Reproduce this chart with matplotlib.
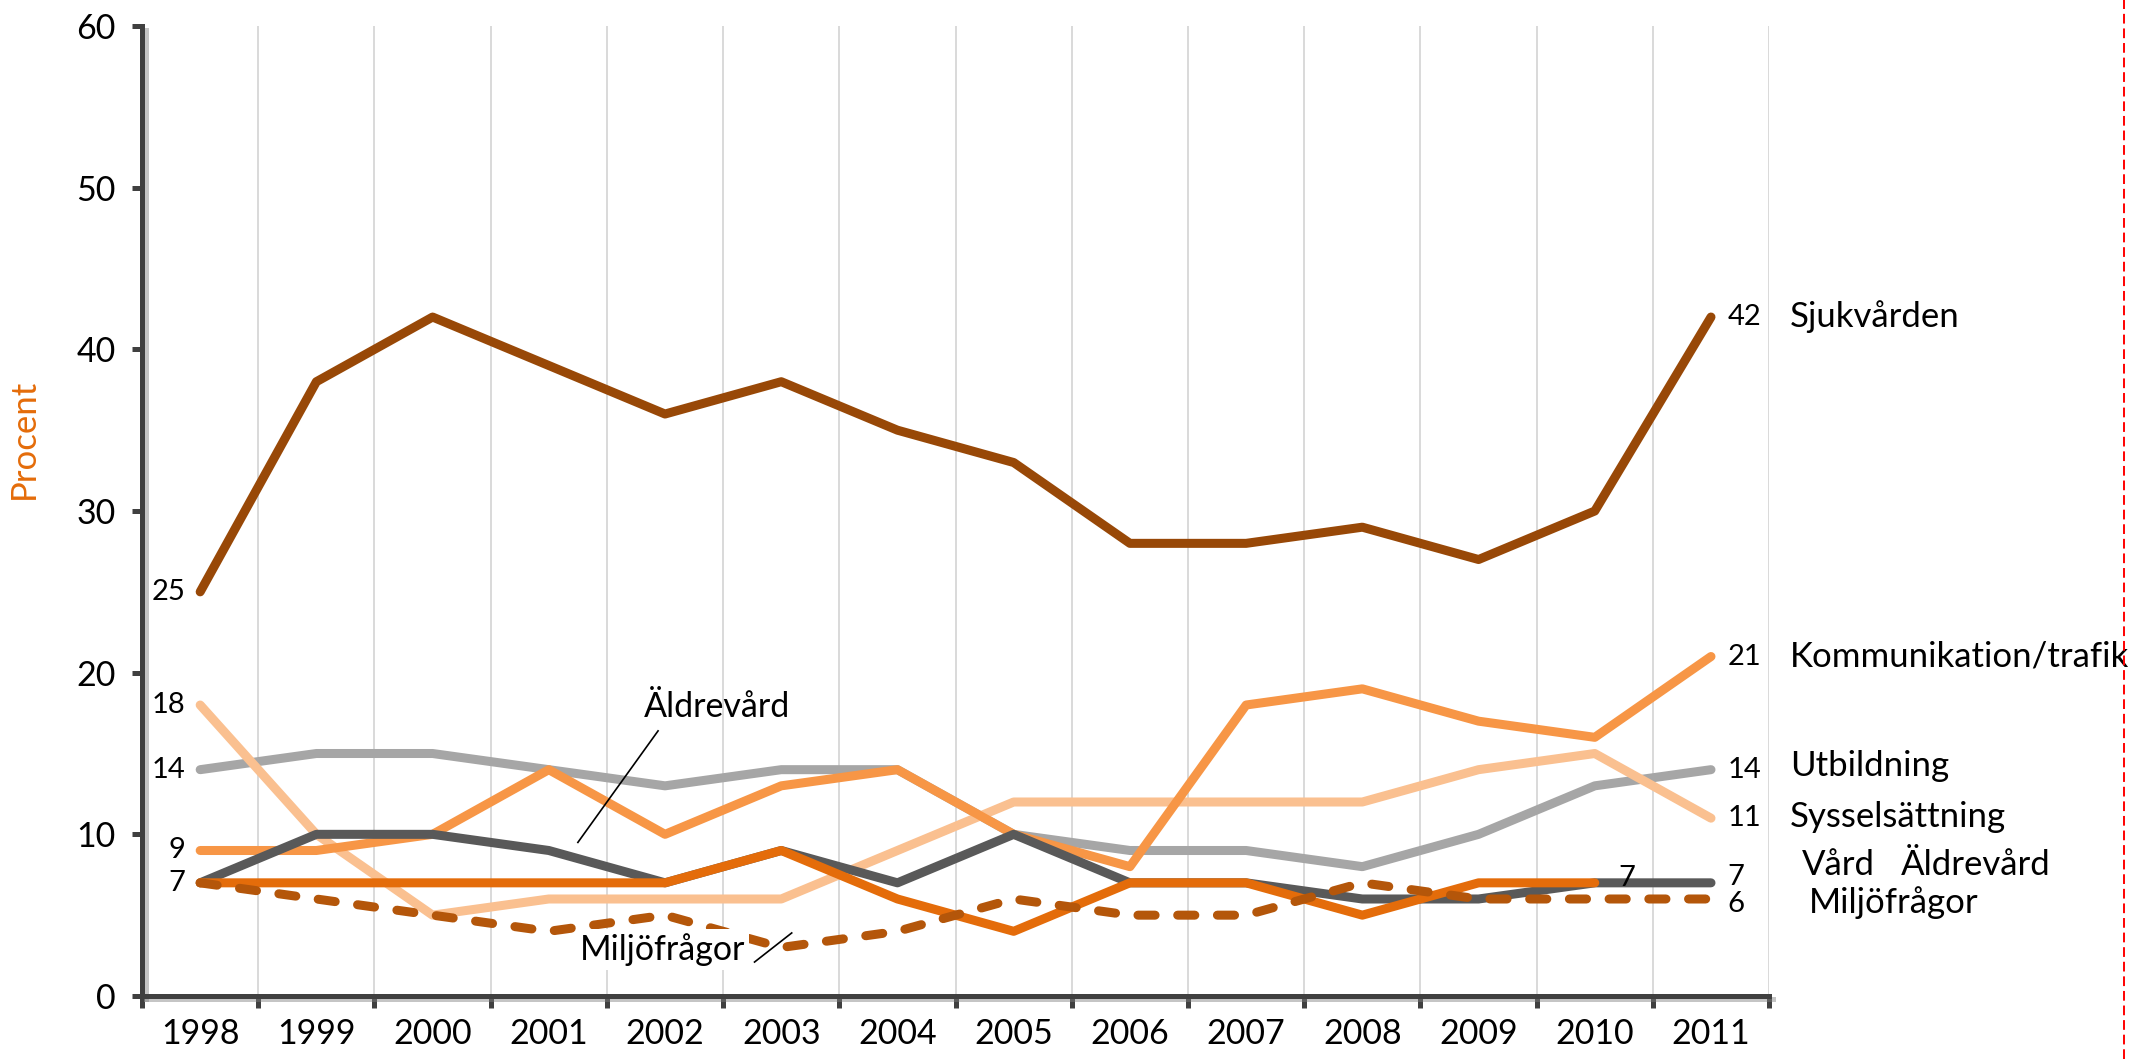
"""
Viktigaste frågorna 1998-2011 -- andel (procent) per sakfråga
Linjediagram med etiketter vid första och sista året.
"""

import matplotlib
matplotlib.use("Agg")
import matplotlib.pyplot as plt
import matplotlib.patheffects as pe
from matplotlib.lines import Line2D

YEARS = [1998, 1999, 2000, 2001, 2002, 2003, 2004,
         2005, 2006, 2007, 2008, 2009, 2010, 2011]

SJUKVARDEN     = [25, 38, 42, 39, 36, 38, 35, 33, 28, 28, 29, 27, 30, 42]
KOMMUNIKATION  = [9, 9, 10, 14, 10, 13, 14, 10, 8, 18, 19, 17, 16, 21]
UTBILDNING     = [14, 15, 15, 14, 13, 14, 14, 10, 9, 9, 8, 10, 13, 14]
SYSSELSATTNING = [18, 10, 5, 6, 6, 6, 9, 12, 12, 12, 12, 14, 15, 11]
ALDREVARD      = [7, 10, 10, 9, 7, 9, 7, 10, 7, 7, 6, 6, 7, 7]
VARD           = [7, 7, 7, 7, 7, 9, 6, 4, 7, 7, 5, 7, 7]          # slutar 2010
MILJOFRAGOR    = [7, 6, 5, 4, 5, 3, 4, 6, 5, 5, 7, 6, 6, 6]

# (värden, färg, streckad, zorder) -- ritordning nedifrån och upp
SERIES = [
    (UTBILDNING,     "#A6A6A6", False, 3),
    (SYSSELSATTNING, "#FAC090", False, 4),
    (KOMMUNIKATION,  "#F79646", False, 5),
    (ALDREVARD,      "#595959", False, 6),
    (VARD,           "#E46C0A", False, 7),
    (MILJOFRAGOR,    "#B4560A", True,  8),
    (SJUKVARDEN,     "#984807", False, 9),
]

# etiketter till höger: (text, y)
RIGHT_NAMES = [
    ("Sjukvården", 42),
    ("Kommunikation/trafik", 21),
    ("Utbildning", 14.2),
    ("Sysselsättning", 11.1),
]

AXIS_COL = "#404040"
FONT = ["Lato", "DejaVu Sans"]
NUM_FS = 21
NAME_FS = 25


def chart() -> None:
    plt.rcParams.update({
        "font.family": FONT,
        "font.size": 22,
    })

    fig = plt.figure(figsize=(21.33, 10.59), dpi=100)
    ax = fig.add_axes([0.0666, 0.0595, 0.7628, 0.9159])

    x = list(range(len(YEARS)))
    lw = 6.5
    for vals, col, dashed, z in SERIES:
        xs = x[:len(vals)]
        if dashed:
            ax.plot(xs, vals, color=col, lw=lw, zorder=z,
                    dashes=(1.9, 2.5), dash_capstyle="round",
                    dash_joinstyle="round")
        else:
            ax.plot(xs, vals, color=col, lw=lw, zorder=z,
                    solid_capstyle="round", solid_joinstyle="round")

    ax.set_xlim(-0.5, len(YEARS) - 0.5)
    ax.set_ylim(0, 60)

    # axlar
    for side in ("top", "right"):
        ax.spines[side].set_visible(False)
    shadow = [pe.SimpleLineShadow(offset=(2.5, -2.5), shadow_color="#808080",
                                  alpha=0.45), pe.Normal()]
    for side in ("left", "bottom"):
        ax.spines[side].set_color(AXIS_COL)
        ax.spines[side].set_linewidth(3.6)
        ax.spines[side].set_path_effects(shadow)
        ax.spines[side].set_zorder(10)

    ax.set_yticks(range(0, 61, 10))
    ax.tick_params(axis="y", direction="out", length=7, width=3.6,
                   color=AXIS_COL, pad=12, labelsize=24.5)
    ax.set_xticks(x)
    ax.set_xticklabels(YEARS)
    ax.set_xticks([i - 0.5 for i in range(len(YEARS) + 1)], minor=True)
    ax.tick_params(axis="x", which="major", length=0, pad=16, labelsize=24.5)
    ax.tick_params(axis="x", which="minor", direction="out", length=8.5,
                   width=3.6, color=AXIS_COL)
    ax.grid(axis="x", which="minor", color="#D9D9D9", lw=1.4, zorder=0)
    ax.set_axisbelow(True)

    # etiketter, vänster
    for vals in (SJUKVARDEN, SYSSELSATTNING, UTBILDNING, KOMMUNIKATION, ALDREVARD):
        ax.text(-0.13, vals[0], f"{vals[0]}", ha="right", va="center",
                fontsize=NUM_FS)

    # etiketter, höger
    last = len(YEARS) - 1
    for vals in (SJUKVARDEN, KOMMUNIKATION, UTBILDNING, SYSSELSATTNING):
        ax.text(last + 0.14, vals[-1], f"{vals[-1]}", ha="left", va="center",
                fontsize=NUM_FS)
    for name, yy in RIGHT_NAMES:
        ax.text(last + 0.68, yy, name, ha="left", va="center", fontsize=NAME_FS)

    ax.text(last + 0.14, ALDREVARD[-1] + 0.35, f"{ALDREVARD[-1]}", ha="left",
            va="center", fontsize=NUM_FS)
    ax.text(last + 0.14, MILJOFRAGOR[-1] - 0.3, f"{MILJOFRAGOR[-1]}", ha="left",
            va="center", fontsize=NUM_FS)
    ax.text(len(VARD) - 1 + 0.2, VARD[-1] + 0.3, f"{VARD[-1]}", ha="left",
            va="center", fontsize=NUM_FS, zorder=12)
    ax.text(last + 0.78, 8.1, "Vård", ha="left", va="center", fontsize=NAME_FS)
    ax.text(last + 1.63, 8.1, "Äldrevård", ha="left", va="center",
            fontsize=NAME_FS)
    ax.text(last + 0.84, 5.8, "Miljöfrågor", ha="left", va="center",
            fontsize=NAME_FS)

    # etiketter med hänvisningslinje i diagrammet
    ax.text(4.45, 17.9, "Äldrevård", ha="center", va="center", fontsize=24.5,
            zorder=12)
    ax.plot([3.94, 3.25], [16.4, 9.5], color="black", lw=1.2, zorder=12)
    ax.text(3.98, 2.85, "Miljöfrågor", ha="center", va="center", fontsize=24.5,
            zorder=12, bbox=dict(boxstyle="square,pad=0.12", fc="white",
                                 ec="none"))
    ax.plot([4.77, 5.09], [2.1, 3.9], color="black", lw=1.2, zorder=12)

    fig.text(0.0113, 0.586, "Procent", rotation=90, ha="center", va="center",
             fontsize=25, color="#E46C0A")

    # röd streckad kantlinje till höger
    fig.add_artist(Line2D([0.9958, 0.9958], [0, 1], transform=fig.transFigure,
                          color="#FF0000", lw=1.4, dashes=(5, 2.5)))

    fig.savefig("out.png", dpi=100)
    plt.close(fig)


if __name__ == "__main__":
    chart()
